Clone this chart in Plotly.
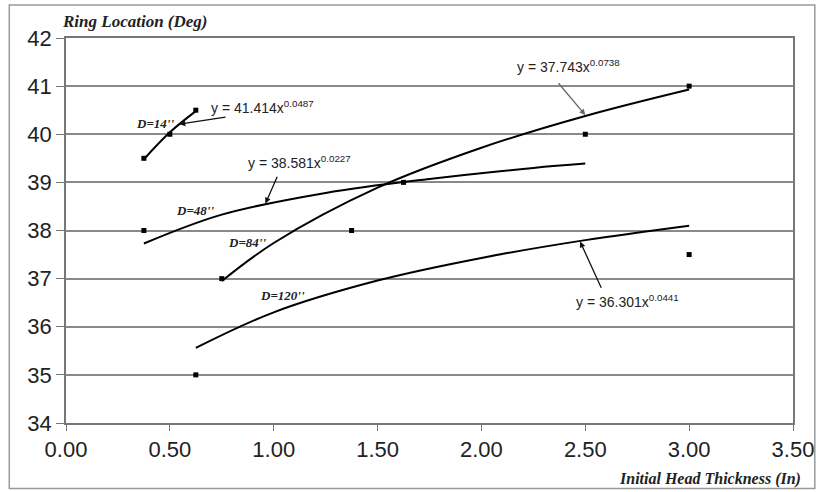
import plotly.graph_objects as go

# ---- data ----
x_ticks = [0.0, 0.5, 1.0, 1.5, 2.0, 2.5, 3.0, 3.5]
x_tick_labels = ["0.00", "0.50", "1.00", "1.50", "2.00", "2.50", "3.00", "3.50"]
y_ticks = [34, 35, 36, 37, 38, 39, 40, 41, 42]

# measured points
pts_14_x = [0.375, 0.5, 0.625]
pts_14_y = [39.5, 40.0, 40.5]
pts_48_x = [0.375, 1.625, 2.5]
pts_48_y = [38.0, 39.0, 40.0]
pts_84_x = [0.75, 1.375, 3.0]
pts_84_y = [37.0, 38.0, 41.0]
pts_120_x = [0.625, 3.0]
pts_120_y = [35.0, 37.5]

# trend curves
fit_14_x = [0.375, 0.5, 0.625]
fit_14_y = [39.48, 40.04, 40.48]
fit_48_x = [0.375, 0.75, 1.25, 1.75, 2.25, 2.5]
fit_48_y = [37.73, 38.33, 38.78, 39.07, 39.30, 39.39]
fit_84_x = [0.75, 1.0, 1.5, 2.0, 2.5, 3.0]
fit_84_y = [36.95, 37.74, 38.89, 39.72, 40.38, 40.93]
fit_120_x = [0.625, 1.0, 1.5, 2.0, 2.5, 3.0]
fit_120_y = [35.56, 36.30, 36.96, 37.43, 37.80, 38.10]

eq_texts = ["y = 41.414x<sup>0.0487</sup>", "y = 38.581x<sup>0.0227</sup>",
            "y = 37.743x<sup>0.0738</sup>", "y = 36.301x<sup>0.0441</sup>"]
d_labels = ["D=14''", "D=48''", "D=84''", "D=120''"]

fig = go.Figure()

for fx, fy in [(fit_14_x, fit_14_y), (fit_48_x, fit_48_y), (fit_84_x, fit_84_y), (fit_120_x, fit_120_y)]:
    fig.add_trace(go.Scatter(x=fx, y=fy, mode="lines", line=dict(color="black", width=2, shape="spline"),
                             showlegend=False, hoverinfo="skip"))

for px, py in [(pts_14_x, pts_14_y), (pts_48_x, pts_48_y), (pts_84_x, pts_84_y), (pts_120_x, pts_120_y)]:
    fig.add_trace(go.Scatter(x=px, y=py, mode="markers",
                             marker=dict(color="black", size=5, symbol="square"),
                             showlegend=False))

serif = "Liberation Serif"
sans = "Liberation Sans"

annotations = []
# D labels
for txt, (lx, ly) in zip(d_labels, [(0.43, 40.23), (0.62, 38.42), (0.87, 37.76), (1.04, 36.64)]):
    annotations.append(dict(x=lx, y=ly, xref="x", yref="y", text="<b><i>" + txt + "</i></b>",
                            showarrow=False, font=dict(family=serif, size=13, color="#222")))
# equation labels
for txt, (lx, ly) in zip(eq_texts, [(0.69, 40.56), (0.866, 39.42), (2.16, 41.42), (2.446, 36.53)]):
    annotations.append(dict(x=lx, y=ly, xref="x", yref="y", text=txt, xanchor="left",
                            showarrow=False, font=dict(family=sans, size=14, color="#222")))
# leader arrows
for (tx, ty, hx, hy, col) in [(0.775, 40.36, 0.546, 40.21, "#111"),
                              (1.02, 39.15, 0.96, 38.56, "#111"),
                              (2.365, 41.09, 2.5, 40.40, "#666"),
                              (2.58, 36.78, 2.475, 37.77, "#111")]:
    annotations.append(dict(x=hx, y=hy, ax=tx, ay=ty, xref="x", yref="y", axref="x", ayref="y",
                            text="", showarrow=True, arrowhead=2, arrowsize=0.9, arrowwidth=1.3,
                            arrowcolor=col))
# axis titles
annotations.append(dict(x=-0.008, y=1.0416, xref="paper", yref="paper", xanchor="left", yanchor="middle",
                        text="<b><i>Ring Location (Deg)</i></b>", showarrow=False,
                        font=dict(family=serif, size=17, color="#222")))
annotations.append(dict(x=1.0137, y=-0.145, xref="paper", yref="paper", xanchor="right", yanchor="middle",
                        text="<b><i>Initial Head Thickness (In)</i></b>", showarrow=False,
                        font=dict(family=serif, size=16, color="#222")))

fig.update_layout(
    width=826, height=492,
    margin=dict(l=66, r=29, t=38, b=69),
    paper_bgcolor="white", plot_bgcolor="white",
    annotations=annotations,
    shapes=[dict(type="rect", xref="paper", yref="paper", x0=-0.078, x1=1.03, y0=-0.17, y1=1.0857,
                 line=dict(color="#999", width=1.5), layer="below")],
    xaxis=dict(range=[0, 3.5], tickvals=x_ticks, ticktext=x_tick_labels, showgrid=False,
               showline=True, linecolor="#777", linewidth=1.5, mirror=True,
               ticks="outside", ticklen=6, tickcolor="#777", zeroline=False,
               tickfont=dict(family=sans, size=22, color="#222"), ticklabelstandoff=0),
    yaxis=dict(range=[34, 42], tickvals=y_ticks, showgrid=True, gridcolor="#8a8a8a", gridwidth=1.5,
               showline=True, linecolor="#777", linewidth=1.5, mirror=True,
               ticks="outside", ticklen=8, tickcolor="#777", zeroline=False,
               tickfont=dict(family=sans, size=22, color="#222"), ticklabelstandoff=0),
)

fig.write_html("out.html", config={"displayModeBar": False},
               post_script="document.body.style.margin='0';document.body.style.overflow='hidden';")
